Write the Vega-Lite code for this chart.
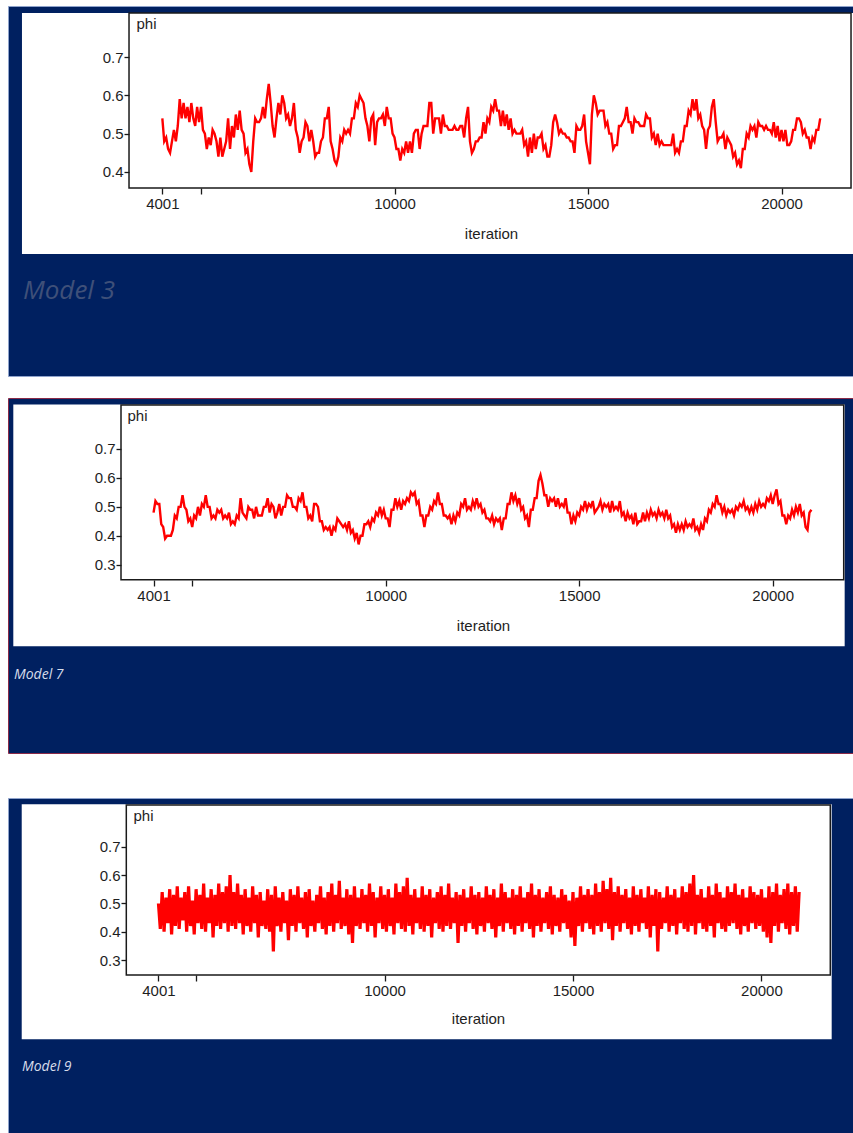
{
"$schema": "https://vega.github.io/schema/vega-lite/v6.json",
"background": "#ffffff",
"padding": {"left": 7, "top": 5, "right": 0, "bottom": 0},
"spacing": 43,
"config": {"view": {"stroke": null}},
"datasets": {
"m3": [
{"i":4001,"v":0.54},{"i":4050,"v":0.48},{"i":4100,"v":0.49},{"i":4150,"v":0.46},{"i":4200,"v":0.45},{"i":4250,"v":0.48},{"i":4300,"v":0.51},{"i":4350,"v":0.48},{"i":4400,"v":0.52},{"i":4450,"v":0.59},
{"i":4500,"v":0.54},{"i":4550,"v":0.58},{"i":4600,"v":0.54},{"i":4650,"v":0.57},{"i":4700,"v":0.53},{"i":4750,"v":0.58},{"i":4800,"v":0.54},{"i":4850,"v":0.52},{"i":4900,"v":0.57},{"i":4950,"v":0.53},
{"i":5000,"v":0.57},{"i":5050,"v":0.51},{"i":5100,"v":0.50},{"i":5150,"v":0.46},{"i":5200,"v":0.49},{"i":5250,"v":0.47},{"i":5300,"v":0.51},{"i":5350,"v":0.50},{"i":5400,"v":0.48},{"i":5450,"v":0.44},
{"i":5500,"v":0.49},{"i":5550,"v":0.44},{"i":5600,"v":0.46},{"i":5650,"v":0.48},{"i":5700,"v":0.54},{"i":5750,"v":0.46},{"i":5800,"v":0.52},{"i":5850,"v":0.49},{"i":5900,"v":0.55},{"i":5950,"v":0.51},
{"i":6000,"v":0.56},{"i":6050,"v":0.51},{"i":6100,"v":0.50},{"i":6150,"v":0.45},{"i":6200,"v":0.46},{"i":6250,"v":0.42},{"i":6300,"v":0.40},{"i":6350,"v":0.48},{"i":6400,"v":0.54},{"i":6450,"v":0.53},
{"i":6500,"v":0.53},{"i":6550,"v":0.54},{"i":6600,"v":0.57},{"i":6650,"v":0.54},{"i":6700,"v":0.59},{"i":6750,"v":0.63},{"i":6800,"v":0.58},{"i":6850,"v":0.52},{"i":6900,"v":0.49},{"i":6950,"v":0.54},
{"i":7000,"v":0.58},{"i":7050,"v":0.55},{"i":7100,"v":0.60},{"i":7150,"v":0.58},{"i":7200,"v":0.54},{"i":7250,"v":0.55},{"i":7300,"v":0.52},{"i":7350,"v":0.54},{"i":7400,"v":0.58},{"i":7450,"v":0.51},
{"i":7500,"v":0.49},{"i":7550,"v":0.45},{"i":7600,"v":0.48},{"i":7650,"v":0.49},{"i":7700,"v":0.53},{"i":7750,"v":0.52},{"i":7800,"v":0.48},{"i":7850,"v":0.51},{"i":7900,"v":0.48},{"i":7950,"v":0.44},
{"i":8000,"v":0.45},{"i":8050,"v":0.45},{"i":8100,"v":0.48},{"i":8150,"v":0.49},{"i":8200,"v":0.54},{"i":8250,"v":0.54},{"i":8300,"v":0.57},{"i":8350,"v":0.48},{"i":8400,"v":0.46},{"i":8450,"v":0.43},
{"i":8500,"v":0.42},{"i":8550,"v":0.44},{"i":8600,"v":0.49},{"i":8650,"v":0.48},{"i":8700,"v":0.51},{"i":8750,"v":0.50},{"i":8800,"v":0.51},{"i":8850,"v":0.50},{"i":8900,"v":0.54},{"i":8950,"v":0.54},
{"i":9000,"v":0.58},{"i":9050,"v":0.57},{"i":9100,"v":0.60},{"i":9150,"v":0.59},{"i":9200,"v":0.58},{"i":9250,"v":0.54},{"i":9300,"v":0.52},{"i":9350,"v":0.48},{"i":9400,"v":0.54},{"i":9450,"v":0.55},
{"i":9500,"v":0.47},{"i":9550,"v":0.53},{"i":9600,"v":0.54},{"i":9650,"v":0.54},{"i":9700,"v":0.55},{"i":9750,"v":0.52},{"i":9800,"v":0.57},{"i":9850,"v":0.54},{"i":9900,"v":0.54},{"i":9950,"v":0.50},
{"i":10000,"v":0.49},{"i":10050,"v":0.46},{"i":10100,"v":0.46},{"i":10150,"v":0.43},{"i":10200,"v":0.46},{"i":10250,"v":0.45},{"i":10300,"v":0.48},{"i":10350,"v":0.45},{"i":10400,"v":0.48},{"i":10450,"v":0.45},
{"i":10500,"v":0.50},{"i":10550,"v":0.51},{"i":10600,"v":0.51},{"i":10650,"v":0.46},{"i":10700,"v":0.50},{"i":10750,"v":0.52},{"i":10800,"v":0.52},{"i":10850,"v":0.52},{"i":10900,"v":0.58},{"i":10950,"v":0.58},
{"i":11000,"v":0.50},{"i":11050,"v":0.54},{"i":11100,"v":0.54},{"i":11150,"v":0.54},{"i":11200,"v":0.50},{"i":11250,"v":0.55},{"i":11300,"v":0.52},{"i":11350,"v":0.52},{"i":11400,"v":0.51},{"i":11450,"v":0.51},
{"i":11500,"v":0.51},{"i":11550,"v":0.52},{"i":11600,"v":0.51},{"i":11650,"v":0.51},{"i":11700,"v":0.52},{"i":11750,"v":0.52},{"i":11800,"v":0.49},{"i":11850,"v":0.54},{"i":11900,"v":0.57},{"i":11950,"v":0.48},
{"i":12000,"v":0.45},{"i":12050,"v":0.46},{"i":12100,"v":0.48},{"i":12150,"v":0.48},{"i":12200,"v":0.49},{"i":12250,"v":0.49},{"i":12300,"v":0.53},{"i":12350,"v":0.50},{"i":12400,"v":0.54},{"i":12450,"v":0.53},
{"i":12500,"v":0.57},{"i":12550,"v":0.56},{"i":12600,"v":0.59},{"i":12650,"v":0.56},{"i":12700,"v":0.56},{"i":12750,"v":0.52},{"i":12800,"v":0.56},{"i":12850,"v":0.52},{"i":12900,"v":0.55},{"i":12950,"v":0.51},
{"i":13000,"v":0.54},{"i":13050,"v":0.50},{"i":13100,"v":0.51},{"i":13150,"v":0.50},{"i":13200,"v":0.50},{"i":13250,"v":0.50},{"i":13300,"v":0.51},{"i":13350,"v":0.47},{"i":13400,"v":0.48},{"i":13450,"v":0.44},
{"i":13500,"v":0.49},{"i":13550,"v":0.45},{"i":13600,"v":0.50},{"i":13650,"v":0.46},{"i":13700,"v":0.49},{"i":13750,"v":0.49},{"i":13800,"v":0.50},{"i":13850,"v":0.46},{"i":13900,"v":0.47},{"i":13950,"v":0.44},
{"i":14000,"v":0.44},{"i":14050,"v":0.47},{"i":14100,"v":0.53},{"i":14150,"v":0.55},{"i":14200,"v":0.53},{"i":14250,"v":0.50},{"i":14300,"v":0.51},{"i":14350,"v":0.50},{"i":14400,"v":0.50},{"i":14450,"v":0.49},
{"i":14500,"v":0.49},{"i":14550,"v":0.48},{"i":14600,"v":0.48},{"i":14650,"v":0.45},{"i":14700,"v":0.52},{"i":14750,"v":0.51},{"i":14800,"v":0.51},{"i":14850,"v":0.52},{"i":14900,"v":0.55},{"i":14950,"v":0.48},
{"i":15000,"v":0.45},{"i":15050,"v":0.42},{"i":15100,"v":0.55},{"i":15150,"v":0.60},{"i":15200,"v":0.58},{"i":15250,"v":0.55},{"i":15300,"v":0.56},{"i":15350,"v":0.56},{"i":15400,"v":0.56},{"i":15450,"v":0.52},
{"i":15500,"v":0.53},{"i":15550,"v":0.50},{"i":15600,"v":0.50},{"i":15650,"v":0.46},{"i":15700,"v":0.47},{"i":15750,"v":0.47},{"i":15800,"v":0.52},{"i":15850,"v":0.52},{"i":15900,"v":0.53},{"i":15950,"v":0.54},
{"i":16000,"v":0.57},{"i":16050,"v":0.53},{"i":16100,"v":0.53},{"i":16150,"v":0.50},{"i":16200,"v":0.54},{"i":16250,"v":0.53},{"i":16300,"v":0.53},{"i":16350,"v":0.52},{"i":16400,"v":0.52},{"i":16450,"v":0.52},
{"i":16500,"v":0.55},{"i":16550,"v":0.54},{"i":16600,"v":0.54},{"i":16650,"v":0.49},{"i":16700,"v":0.50},{"i":16750,"v":0.47},{"i":16800,"v":0.50},{"i":16850,"v":0.47},{"i":16900,"v":0.48},{"i":16950,"v":0.47},
{"i":17000,"v":0.47},{"i":17050,"v":0.47},{"i":17100,"v":0.47},{"i":17150,"v":0.47},{"i":17200,"v":0.50},{"i":17250,"v":0.45},{"i":17300,"v":0.46},{"i":17350,"v":0.45},{"i":17400,"v":0.48},{"i":17450,"v":0.48},
{"i":17500,"v":0.52},{"i":17550,"v":0.52},{"i":17600,"v":0.56},{"i":17650,"v":0.55},{"i":17700,"v":0.59},{"i":17750,"v":0.56},{"i":17800,"v":0.59},{"i":17850,"v":0.54},{"i":17900,"v":0.55},{"i":17950,"v":0.52},
{"i":18000,"v":0.51},{"i":18050,"v":0.46},{"i":18100,"v":0.51},{"i":18150,"v":0.52},{"i":18200,"v":0.57},{"i":18250,"v":0.59},{"i":18300,"v":0.53},{"i":18350,"v":0.48},{"i":18400,"v":0.49},{"i":18450,"v":0.49},
{"i":18500,"v":0.50},{"i":18550,"v":0.46},{"i":18600,"v":0.49},{"i":18650,"v":0.48},{"i":18700,"v":0.47},{"i":18750,"v":0.44},{"i":18800,"v":0.45},{"i":18850,"v":0.42},{"i":18900,"v":0.43},{"i":18950,"v":0.41},
{"i":19000,"v":0.46},{"i":19050,"v":0.46},{"i":19100,"v":0.50},{"i":19150,"v":0.49},{"i":19200,"v":0.52},{"i":19250,"v":0.51},{"i":19300,"v":0.52},{"i":19350,"v":0.49},{"i":19400,"v":0.53},{"i":19450,"v":0.52},
{"i":19500,"v":0.52},{"i":19550,"v":0.51},{"i":19600,"v":0.52},{"i":19650,"v":0.51},{"i":19700,"v":0.51},{"i":19750,"v":0.50},{"i":19800,"v":0.53},{"i":19850,"v":0.49},{"i":19900,"v":0.52},{"i":19950,"v":0.48},
{"i":20000,"v":0.51},{"i":20050,"v":0.48},{"i":20100,"v":0.51},{"i":20150,"v":0.47},{"i":20200,"v":0.47},{"i":20250,"v":0.48},{"i":20300,"v":0.51},{"i":20350,"v":0.51},{"i":20400,"v":0.54},{"i":20450,"v":0.54},
{"i":20500,"v":0.53},{"i":20550,"v":0.50},{"i":20600,"v":0.51},{"i":20650,"v":0.49},{"i":20700,"v":0.49},{"i":20750,"v":0.46},{"i":20800,"v":0.49},{"i":20850,"v":0.48},{"i":20900,"v":0.51},{"i":20950,"v":0.51},
{"i":21000,"v":0.54}
],
"m7": [
{"i":4001,"v":0.48},{"i":4050,"v":0.52},{"i":4100,"v":0.51},{"i":4150,"v":0.51},{"i":4200,"v":0.44},{"i":4250,"v":0.43},{"i":4300,"v":0.39},{"i":4350,"v":0.40},{"i":4400,"v":0.40},{"i":4450,"v":0.40},
{"i":4500,"v":0.42},{"i":4550,"v":0.47},{"i":4600,"v":0.46},{"i":4650,"v":0.50},{"i":4700,"v":0.50},{"i":4750,"v":0.54},{"i":4800,"v":0.50},{"i":4850,"v":0.49},{"i":4900,"v":0.45},{"i":4950,"v":0.46},
{"i":5000,"v":0.43},{"i":5050,"v":0.47},{"i":5100,"v":0.46},{"i":5150,"v":0.50},{"i":5200,"v":0.47},{"i":5250,"v":0.51},{"i":5300,"v":0.50},{"i":5350,"v":0.54},{"i":5400,"v":0.50},{"i":5450,"v":0.50},
{"i":5500,"v":0.46},{"i":5550,"v":0.47},{"i":5600,"v":0.46},{"i":5650,"v":0.49},{"i":5700,"v":0.48},{"i":5750,"v":0.49},{"i":5800,"v":0.46},{"i":5850,"v":0.47},{"i":5900,"v":0.46},{"i":5950,"v":0.48},
{"i":6000,"v":0.44},{"i":6050,"v":0.45},{"i":6100,"v":0.44},{"i":6150,"v":0.47},{"i":6200,"v":0.46},{"i":6250,"v":0.53},{"i":6300,"v":0.48},{"i":6350,"v":0.47},{"i":6400,"v":0.46},{"i":6450,"v":0.50},
{"i":6500,"v":0.49},{"i":6550,"v":0.49},{"i":6600,"v":0.46},{"i":6650,"v":0.50},{"i":6700,"v":0.47},{"i":6750,"v":0.47},{"i":6800,"v":0.47},{"i":6850,"v":0.50},{"i":6900,"v":0.50},{"i":6950,"v":0.53},
{"i":7000,"v":0.48},{"i":7050,"v":0.51},{"i":7100,"v":0.50},{"i":7150,"v":0.46},{"i":7200,"v":0.48},{"i":7250,"v":0.51},{"i":7300,"v":0.47},{"i":7350,"v":0.50},{"i":7400,"v":0.50},{"i":7450,"v":0.54},
{"i":7500,"v":0.53},{"i":7550,"v":0.53},{"i":7600,"v":0.50},{"i":7650,"v":0.50},{"i":7700,"v":0.49},{"i":7750,"v":0.53},{"i":7800,"v":0.52},{"i":7850,"v":0.55},{"i":7900,"v":0.50},{"i":7950,"v":0.50},
{"i":8000,"v":0.46},{"i":8050,"v":0.47},{"i":8100,"v":0.45},{"i":8150,"v":0.51},{"i":8200,"v":0.51},{"i":8250,"v":0.50},{"i":8300,"v":0.45},{"i":8350,"v":0.45},{"i":8400,"v":0.42},{"i":8450,"v":0.43},
{"i":8500,"v":0.42},{"i":8550,"v":0.43},{"i":8600,"v":0.40},{"i":8650,"v":0.43},{"i":8700,"v":0.42},{"i":8750,"v":0.46},{"i":8800,"v":0.45},{"i":8850,"v":0.44},{"i":8900,"v":0.43},{"i":8950,"v":0.44},
{"i":9000,"v":0.42},{"i":9050,"v":0.45},{"i":9100,"v":0.41},{"i":9150,"v":0.42},{"i":9200,"v":0.39},{"i":9250,"v":0.41},{"i":9300,"v":0.37},{"i":9350,"v":0.40},{"i":9400,"v":0.40},{"i":9450,"v":0.44},
{"i":9500,"v":0.44},{"i":9550,"v":0.45},{"i":9600,"v":0.43},{"i":9650,"v":0.46},{"i":9700,"v":0.45},{"i":9750,"v":0.48},{"i":9800,"v":0.47},{"i":9850,"v":0.50},{"i":9900,"v":0.47},{"i":9950,"v":0.49},
{"i":10000,"v":0.46},{"i":10050,"v":0.46},{"i":10100,"v":0.43},{"i":10150,"v":0.49},{"i":10200,"v":0.49},{"i":10250,"v":0.53},{"i":10300,"v":0.50},{"i":10350,"v":0.52},{"i":10400,"v":0.49},{"i":10450,"v":0.52},
{"i":10500,"v":0.51},{"i":10550,"v":0.53},{"i":10600,"v":0.52},{"i":10650,"v":0.55},{"i":10700,"v":0.54},{"i":10750,"v":0.55},{"i":10800,"v":0.51},{"i":10850,"v":0.52},{"i":10900,"v":0.47},{"i":10950,"v":0.47},
{"i":11000,"v":0.43},{"i":11050,"v":0.47},{"i":11100,"v":0.47},{"i":11150,"v":0.50},{"i":11200,"v":0.49},{"i":11250,"v":0.52},{"i":11300,"v":0.51},{"i":11350,"v":0.55},{"i":11400,"v":0.51},{"i":11450,"v":0.51},
{"i":11500,"v":0.47},{"i":11550,"v":0.47},{"i":11600,"v":0.46},{"i":11650,"v":0.47},{"i":11700,"v":0.44},{"i":11750,"v":0.47},{"i":11800,"v":0.45},{"i":11850,"v":0.48},{"i":11900,"v":0.47},{"i":11950,"v":0.51},
{"i":12000,"v":0.50},{"i":12050,"v":0.53},{"i":12100,"v":0.49},{"i":12150,"v":0.50},{"i":12200,"v":0.49},{"i":12250,"v":0.52},{"i":12300,"v":0.50},{"i":12350,"v":0.53},{"i":12400,"v":0.50},{"i":12450,"v":0.51},
{"i":12500,"v":0.48},{"i":12550,"v":0.49},{"i":12600,"v":0.46},{"i":12650,"v":0.46},{"i":12700,"v":0.45},{"i":12750,"v":0.47},{"i":12800,"v":0.44},{"i":12850,"v":0.46},{"i":12900,"v":0.45},{"i":12950,"v":0.46},
{"i":13000,"v":0.42},{"i":13050,"v":0.46},{"i":13100,"v":0.46},{"i":13150,"v":0.51},{"i":13200,"v":0.51},{"i":13250,"v":0.55},{"i":13300,"v":0.52},{"i":13350,"v":0.54},{"i":13400,"v":0.51},{"i":13450,"v":0.53},
{"i":13500,"v":0.49},{"i":13550,"v":0.50},{"i":13600,"v":0.46},{"i":13650,"v":0.47},{"i":13700,"v":0.43},{"i":13750,"v":0.49},{"i":13800,"v":0.49},{"i":13850,"v":0.53},{"i":13900,"v":0.53},{"i":13950,"v":0.59},
{"i":14000,"v":0.61},{"i":14050,"v":0.58},{"i":14100,"v":0.54},{"i":14150,"v":0.54},{"i":14200,"v":0.50},{"i":14250,"v":0.53},{"i":14300,"v":0.52},{"i":14350,"v":0.53},{"i":14400,"v":0.50},{"i":14450,"v":0.53},
{"i":14500,"v":0.50},{"i":14550,"v":0.51},{"i":14600,"v":0.50},{"i":14650,"v":0.53},{"i":14700,"v":0.48},{"i":14750,"v":0.48},{"i":14800,"v":0.44},{"i":14850,"v":0.47},{"i":14900,"v":0.45},{"i":14950,"v":0.48},
{"i":15000,"v":0.47},{"i":15050,"v":0.50},{"i":15100,"v":0.49},{"i":15150,"v":0.52},{"i":15200,"v":0.49},{"i":15250,"v":0.51},{"i":15300,"v":0.50},{"i":15350,"v":0.52},{"i":15400,"v":0.48},{"i":15450,"v":0.49},
{"i":15500,"v":0.50},{"i":15550,"v":0.52},{"i":15600,"v":0.49},{"i":15650,"v":0.51},{"i":15700,"v":0.50},{"i":15750,"v":0.51},{"i":15800,"v":0.48},{"i":15850,"v":0.52},{"i":15900,"v":0.49},{"i":15950,"v":0.50},
{"i":16000,"v":0.49},{"i":16050,"v":0.52},{"i":16100,"v":0.47},{"i":16150,"v":0.48},{"i":16200,"v":0.45},{"i":16250,"v":0.48},{"i":16300,"v":0.46},{"i":16350,"v":0.47},{"i":16400,"v":0.44},{"i":16450,"v":0.48},
{"i":16500,"v":0.44},{"i":16550,"v":0.45},{"i":16600,"v":0.45},{"i":16650,"v":0.48},{"i":16700,"v":0.45},{"i":16750,"v":0.48},{"i":16800,"v":0.46},{"i":16850,"v":0.49},{"i":16900,"v":0.47},{"i":16950,"v":0.48},
{"i":17000,"v":0.46},{"i":17050,"v":0.49},{"i":17100,"v":0.47},{"i":17150,"v":0.48},{"i":17200,"v":0.46},{"i":17250,"v":0.49},{"i":17300,"v":0.46},{"i":17350,"v":0.47},{"i":17400,"v":0.43},{"i":17450,"v":0.44},
{"i":17500,"v":0.41},{"i":17550,"v":0.44},{"i":17600,"v":0.42},{"i":17650,"v":0.44},{"i":17700,"v":0.42},{"i":17750,"v":0.45},{"i":17800,"v":0.43},{"i":17850,"v":0.44},{"i":17900,"v":0.43},{"i":17950,"v":0.46},
{"i":18000,"v":0.42},{"i":18050,"v":0.43},{"i":18100,"v":0.41},{"i":18150,"v":0.44},{"i":18200,"v":0.42},{"i":18250,"v":0.46},{"i":18300,"v":0.45},{"i":18350,"v":0.49},{"i":18400,"v":0.48},{"i":18450,"v":0.51},
{"i":18500,"v":0.50},{"i":18550,"v":0.54},{"i":18600,"v":0.51},{"i":18650,"v":0.51},{"i":18700,"v":0.48},{"i":18750,"v":0.50},{"i":18800,"v":0.47},{"i":18850,"v":0.49},{"i":18900,"v":0.48},{"i":18950,"v":0.49},
{"i":19000,"v":0.47},{"i":19050,"v":0.50},{"i":19100,"v":0.49},{"i":19150,"v":0.51},{"i":19200,"v":0.50},{"i":19250,"v":0.52},{"i":19300,"v":0.49},{"i":19350,"v":0.50},{"i":19400,"v":0.48},{"i":19450,"v":0.50},
{"i":19500,"v":0.48},{"i":19550,"v":0.51},{"i":19600,"v":0.49},{"i":19650,"v":0.52},{"i":19700,"v":0.50},{"i":19750,"v":0.51},{"i":19800,"v":0.50},{"i":19850,"v":0.53},{"i":19900,"v":0.52},{"i":19950,"v":0.54},
{"i":20000,"v":0.51},{"i":20050,"v":0.54},{"i":20100,"v":0.56},{"i":20150,"v":0.51},{"i":20200,"v":0.52},{"i":20250,"v":0.47},{"i":20300,"v":0.47},{"i":20350,"v":0.44},{"i":20400,"v":0.47},{"i":20450,"v":0.46},
{"i":20500,"v":0.49},{"i":20550,"v":0.47},{"i":20600,"v":0.50},{"i":20650,"v":0.48},{"i":20700,"v":0.51},{"i":20750,"v":0.47},{"i":20800,"v":0.48},{"i":20850,"v":0.43},{"i":20900,"v":0.42},{"i":20950,"v":0.48},
{"i":21000,"v":0.49}
],
"m9": [
{"i":4001,"v":0.50},{"i":4050,"v":0.41},{"i":4100,"v":0.54},{"i":4150,"v":0.40},{"i":4200,"v":0.52},{"i":4250,"v":0.43},{"i":4300,"v":0.55},{"i":4350,"v":0.39},{"i":4400,"v":0.53},{"i":4450,"v":0.42},
{"i":4500,"v":0.56},{"i":4550,"v":0.41},{"i":4600,"v":0.52},{"i":4650,"v":0.44},{"i":4700,"v":0.54},{"i":4750,"v":0.40},{"i":4800,"v":0.56},{"i":4850,"v":0.42},{"i":4900,"v":0.51},{"i":4950,"v":0.39},
{"i":5000,"v":0.55},{"i":5050,"v":0.43},{"i":5100,"v":0.53},{"i":5150,"v":0.41},{"i":5200,"v":0.57},{"i":5250,"v":0.40},{"i":5300,"v":0.52},{"i":5350,"v":0.43},{"i":5400,"v":0.55},{"i":5450,"v":0.38},
{"i":5500,"v":0.53},{"i":5550,"v":0.42},{"i":5600,"v":0.57},{"i":5650,"v":0.41},{"i":5700,"v":0.54},{"i":5750,"v":0.43},{"i":5800,"v":0.56},{"i":5850,"v":0.40},{"i":5900,"v":0.60},{"i":5950,"v":0.42},
{"i":6000,"v":0.54},{"i":6050,"v":0.41},{"i":6100,"v":0.57},{"i":6150,"v":0.43},{"i":6200,"v":0.53},{"i":6250,"v":0.39},{"i":6300,"v":0.55},{"i":6350,"v":0.42},{"i":6400,"v":0.52},{"i":6450,"v":0.40},
{"i":6500,"v":0.56},{"i":6550,"v":0.43},{"i":6600,"v":0.53},{"i":6650,"v":0.38},{"i":6700,"v":0.54},{"i":6750,"v":0.42},{"i":6800,"v":0.51},{"i":6850,"v":0.41},{"i":6900,"v":0.55},{"i":6950,"v":0.40},
{"i":7000,"v":0.53},{"i":7050,"v":0.33},{"i":7100,"v":0.56},{"i":7150,"v":0.42},{"i":7200,"v":0.52},{"i":7250,"v":0.40},{"i":7300,"v":0.54},{"i":7350,"v":0.43},{"i":7400,"v":0.51},{"i":7450,"v":0.37},
{"i":7500,"v":0.55},{"i":7550,"v":0.42},{"i":7600,"v":0.53},{"i":7650,"v":0.40},{"i":7700,"v":0.56},{"i":7750,"v":0.43},{"i":7800,"v":0.52},{"i":7850,"v":0.41},{"i":7900,"v":0.54},{"i":7950,"v":0.38},
{"i":8000,"v":0.55},{"i":8050,"v":0.42},{"i":8100,"v":0.51},{"i":8150,"v":0.40},{"i":8200,"v":0.53},{"i":8250,"v":0.43},{"i":8300,"v":0.56},{"i":8350,"v":0.41},{"i":8400,"v":0.52},{"i":8450,"v":0.39},
{"i":8500,"v":0.54},{"i":8550,"v":0.42},{"i":8600,"v":0.57},{"i":8650,"v":0.40},{"i":8700,"v":0.53},{"i":8750,"v":0.43},{"i":8800,"v":0.58},{"i":8850,"v":0.41},{"i":8900,"v":0.52},{"i":8950,"v":0.42},
{"i":9000,"v":0.55},{"i":9050,"v":0.39},{"i":9100,"v":0.53},{"i":9150,"v":0.36},{"i":9200,"v":0.56},{"i":9250,"v":0.42},{"i":9300,"v":0.52},{"i":9350,"v":0.41},{"i":9400,"v":0.55},{"i":9450,"v":0.43},
{"i":9500,"v":0.53},{"i":9550,"v":0.40},{"i":9600,"v":0.57},{"i":9650,"v":0.42},{"i":9700,"v":0.54},{"i":9750,"v":0.38},{"i":9800,"v":0.52},{"i":9850,"v":0.43},{"i":9900,"v":0.56},{"i":9950,"v":0.41},
{"i":10000,"v":0.53},{"i":10050,"v":0.40},{"i":10100,"v":0.55},{"i":10150,"v":0.42},{"i":10200,"v":0.52},{"i":10250,"v":0.39},{"i":10300,"v":0.57},{"i":10350,"v":0.43},{"i":10400,"v":0.54},{"i":10450,"v":0.41},
{"i":10500,"v":0.56},{"i":10550,"v":0.40},{"i":10600,"v":0.59},{"i":10650,"v":0.42},{"i":10700,"v":0.53},{"i":10750,"v":0.39},{"i":10800,"v":0.55},{"i":10850,"v":0.43},{"i":10900,"v":0.52},{"i":10950,"v":0.41},
{"i":11000,"v":0.56},{"i":11050,"v":0.40},{"i":11100,"v":0.53},{"i":11150,"v":0.42},{"i":11200,"v":0.55},{"i":11250,"v":0.38},{"i":11300,"v":0.52},{"i":11350,"v":0.43},{"i":11400,"v":0.54},{"i":11450,"v":0.41},
{"i":11500,"v":0.56},{"i":11550,"v":0.40},{"i":11600,"v":0.53},{"i":11650,"v":0.42},{"i":11700,"v":0.57},{"i":11750,"v":0.41},{"i":11800,"v":0.52},{"i":11850,"v":0.43},{"i":11900,"v":0.54},{"i":11950,"v":0.36},
{"i":12000,"v":0.53},{"i":12050,"v":0.42},{"i":12100,"v":0.55},{"i":12150,"v":0.40},{"i":12200,"v":0.52},{"i":12250,"v":0.43},{"i":12300,"v":0.56},{"i":12350,"v":0.41},{"i":12400,"v":0.53},{"i":12450,"v":0.39},
{"i":12500,"v":0.54},{"i":12550,"v":0.42},{"i":12600,"v":0.52},{"i":12650,"v":0.40},{"i":12700,"v":0.56},{"i":12750,"v":0.43},{"i":12800,"v":0.53},{"i":12850,"v":0.41},{"i":12900,"v":0.55},{"i":12950,"v":0.38},
{"i":13000,"v":0.52},{"i":13050,"v":0.42},{"i":13100,"v":0.57},{"i":13150,"v":0.40},{"i":13200,"v":0.54},{"i":13250,"v":0.43},{"i":13300,"v":0.52},{"i":13350,"v":0.41},{"i":13400,"v":0.55},{"i":13450,"v":0.39},
{"i":13500,"v":0.53},{"i":13550,"v":0.42},{"i":13600,"v":0.56},{"i":13650,"v":0.40},{"i":13700,"v":0.52},{"i":13750,"v":0.43},{"i":13800,"v":0.54},{"i":13850,"v":0.41},{"i":13900,"v":0.57},{"i":13950,"v":0.38},
{"i":14000,"v":0.53},{"i":14050,"v":0.42},{"i":14100,"v":0.55},{"i":14150,"v":0.40},{"i":14200,"v":0.52},{"i":14250,"v":0.43},{"i":14300,"v":0.54},{"i":14350,"v":0.41},{"i":14400,"v":0.56},{"i":14450,"v":0.39},
{"i":14500,"v":0.53},{"i":14550,"v":0.42},{"i":14600,"v":0.52},{"i":14650,"v":0.40},{"i":14700,"v":0.55},{"i":14750,"v":0.43},{"i":14800,"v":0.53},{"i":14850,"v":0.41},{"i":14900,"v":0.51},{"i":14950,"v":0.38},
{"i":15000,"v":0.54},{"i":15050,"v":0.35},{"i":15100,"v":0.52},{"i":15150,"v":0.42},{"i":15200,"v":0.56},{"i":15250,"v":0.40},{"i":15300,"v":0.53},{"i":15350,"v":0.43},{"i":15400,"v":0.55},{"i":15450,"v":0.41},
{"i":15500,"v":0.53},{"i":15550,"v":0.39},{"i":15600,"v":0.57},{"i":15650,"v":0.42},{"i":15700,"v":0.54},{"i":15750,"v":0.40},{"i":15800,"v":0.58},{"i":15850,"v":0.43},{"i":15900,"v":0.55},{"i":15950,"v":0.41},
{"i":16000,"v":0.59},{"i":16050,"v":0.37},{"i":16100,"v":0.54},{"i":16150,"v":0.42},{"i":16200,"v":0.56},{"i":16250,"v":0.40},{"i":16300,"v":0.53},{"i":16350,"v":0.43},{"i":16400,"v":0.55},{"i":16450,"v":0.41},
{"i":16500,"v":0.52},{"i":16550,"v":0.39},{"i":16600,"v":0.56},{"i":16650,"v":0.42},{"i":16700,"v":0.53},{"i":16750,"v":0.40},{"i":16800,"v":0.55},{"i":16850,"v":0.43},{"i":16900,"v":0.52},{"i":16950,"v":0.41},
{"i":17000,"v":0.56},{"i":17050,"v":0.38},{"i":17100,"v":0.53},{"i":17150,"v":0.42},{"i":17200,"v":0.55},{"i":17250,"v":0.33},{"i":17300,"v":0.54},{"i":17350,"v":0.41},{"i":17400,"v":0.52},{"i":17450,"v":0.43},
{"i":17500,"v":0.56},{"i":17550,"v":0.40},{"i":17600,"v":0.53},{"i":17650,"v":0.42},{"i":17700,"v":0.55},{"i":17750,"v":0.39},{"i":17800,"v":0.52},{"i":17850,"v":0.43},{"i":17900,"v":0.56},{"i":17950,"v":0.41},
{"i":18000,"v":0.54},{"i":18050,"v":0.40},{"i":18100,"v":0.57},{"i":18150,"v":0.42},{"i":18200,"v":0.60},{"i":18250,"v":0.39},{"i":18300,"v":0.53},{"i":18350,"v":0.43},{"i":18400,"v":0.55},{"i":18450,"v":0.41},
{"i":18500,"v":0.52},{"i":18550,"v":0.40},{"i":18600,"v":0.56},{"i":18650,"v":0.42},{"i":18700,"v":0.53},{"i":18750,"v":0.38},{"i":18800,"v":0.57},{"i":18850,"v":0.43},{"i":18900,"v":0.54},{"i":18950,"v":0.41},
{"i":19000,"v":0.52},{"i":19050,"v":0.40},{"i":19100,"v":0.56},{"i":19150,"v":0.42},{"i":19200,"v":0.54},{"i":19250,"v":0.43},{"i":19300,"v":0.57},{"i":19350,"v":0.41},{"i":19400,"v":0.53},{"i":19450,"v":0.39},
{"i":19500,"v":0.55},{"i":19550,"v":0.42},{"i":19600,"v":0.52},{"i":19650,"v":0.40},{"i":19700,"v":0.56},{"i":19750,"v":0.43},{"i":19800,"v":0.54},{"i":19850,"v":0.41},{"i":19900,"v":0.53},{"i":19950,"v":0.42},
{"i":20000,"v":0.55},{"i":20050,"v":0.40},{"i":20100,"v":0.52},{"i":20150,"v":0.38},{"i":20200,"v":0.56},{"i":20250,"v":0.36},{"i":20300,"v":0.54},{"i":20350,"v":0.42},{"i":20400,"v":0.57},{"i":20450,"v":0.40},
{"i":20500,"v":0.53},{"i":20550,"v":0.43},{"i":20600,"v":0.55},{"i":20650,"v":0.41},{"i":20700,"v":0.57},{"i":20750,"v":0.39},{"i":20800,"v":0.54},{"i":20850,"v":0.42},{"i":20900,"v":0.56},{"i":20950,"v":0.40},
{"i":21000,"v":0.54}
]
},
"vconcat": [
{
"spacing": 20,
"vconcat": [
{
"width": 846, "height": 370,
"view": {"fill": "#002060", "stroke": "#8fa3cc", "strokeWidth": 1},
"layer": [
{"data": {"values": [{}]}, "mark": {"type": "rect", "fill": "#ffffff"},
 "encoding": {
  "x": {"datum": 374, "type": "quantitative", "scale": {"domain": [13, 21873], "nice": false, "zero": false}},
  "x2": {"datum": 21850},
  "y": {"datum": 0.8148, "type": "quantitative", "scale": {"domain": [-0.1323, 0.8331], "nice": false, "zero": false}},
  "y2": {"datum": 0.186}}},
{"data": {"values": [{}]}, "mark": {"type": "rect", "filled": false, "color": "#1a1a1a", "strokeWidth": 1.5},
 "encoding": {
  "x": {"datum": 3140, "type": "quantitative", "scale": {"domain": [13, 21873], "nice": false, "zero": false}},
  "x2": {"datum": 21796},
  "y": {"datum": 0.8148, "type": "quantitative", "scale": {"domain": [-0.1323, 0.8331], "nice": false, "zero": false}},
  "y2": {"datum": 0.3582}}},
{"data": {"name": "m3"}, "mark": {"type": "line", "color": "#ff0000", "strokeWidth": 2.4},
 "encoding": {
  "x": {"field": "i", "type": "quantitative", "scale": {"domain": [13, 21873], "nice": false, "zero": false},
   "axis": {"values": [4001, 5000, 10000, 15000, 20000], "format": "d", "labelExpr": "datum.value == 5000 ? '' : datum.label", "offset": -188, "domain": false, "grid": false, "tickSize": 6, "tickWidth": 1.3, "tickColor": "#1a1a1a", "labelFont": "Liberation Sans", "labelFontSize": 15, "labelColor": "#1e1e1e", "labelPadding": 2, "labelFlush": false, "labelOverlap": false, "title": "iteration", "titleFont": "Liberation Sans", "titleFontSize": 15, "titleFontWeight": "normal", "titleColor": "#1e1e1e", "titleX": 483, "titleY": 50, "titleAlign": "center", "titleBaseline": "alphabetic", "zindex": 1}},
  "y": {"field": "v", "type": "quantitative", "scale": {"domain": [-0.1323, 0.8331], "nice": false, "zero": false},
   "axis": {"values": [0.4, 0.5, 0.6, 0.7], "format": ".1f", "offset": -121, "domain": false, "grid": false, "tickSize": 5, "tickWidth": 1.3, "tickColor": "#1a1a1a", "labelFont": "Liberation Sans", "labelFontSize": 15, "labelColor": "#1e1e1e", "labelPadding": 1, "labelOverlap": false, "title": "phi", "titleAngle": 0, "titleFont": "Liberation Sans", "titleFontSize": 15, "titleFontWeight": "normal", "titleColor": "#1e1e1e", "titleX": 7, "titleY": 22, "titleAlign": "left", "titleBaseline": "alphabetic", "zindex": 1}}}},
{"data": {"values": [{}]}, "mark": {"type": "text", "align": "left", "baseline": "alphabetic", "font": "Open Sans", "fontStyle": "italic", "fontSize": 26, "color": "#3f5079"},
 "encoding": {
  "x": {"datum": 400, "type": "quantitative", "scale": {"domain": [13, 21873], "nice": false, "zero": false}},
  "y": {"datum": 0.0686, "type": "quantitative", "scale": {"domain": [-0.1323, 0.8331], "nice": false, "zero": false}},
  "text": {"value": "Model 3"}}}
]
},
{
"width": 846, "height": 355,
"view": {"fill": "#002060", "stroke": "#8a2a48", "strokeWidth": 1},
"layer": [
{"data": {"values": [{}]}, "mark": {"type": "rect", "fill": "#ffffff"},
 "encoding": {
  "x": {"datum": 377, "type": "quantitative", "scale": {"domain": [240, 22101], "nice": false, "zero": false}},
  "x2": {"datum": 21860},
  "y": {"datum": 0.8538, "type": "quantitative", "scale": {"domain": [-0.3512, 0.8763], "nice": false, "zero": false}},
  "y2": {"datum": 0.0178}}},
{"data": {"values": [{}]}, "mark": {"type": "rect", "filled": false, "color": "#1a1a1a", "strokeWidth": 1.5},
 "encoding": {
  "x": {"datum": 3160, "type": "quantitative", "scale": {"domain": [240, 22101], "nice": false, "zero": false}},
  "x2": {"datum": 21835},
  "y": {"datum": 0.8521, "type": "quantitative", "scale": {"domain": [-0.3512, 0.8763], "nice": false, "zero": false}},
  "y2": {"datum": 0.2481}}},
{"data": {"name": "m7"}, "mark": {"type": "line", "color": "#ff0000", "strokeWidth": 2.4},
 "encoding": {
  "x": {"field": "i", "type": "quantitative", "scale": {"domain": [240, 22101], "nice": false, "zero": false},
   "axis": {"values": [4001, 5000, 10000, 15000, 20000], "format": "d", "labelExpr": "datum.value == 5000 ? '' : datum.label", "offset": -173, "domain": false, "grid": false, "tickSize": 6, "tickWidth": 1.3, "tickColor": "#1a1a1a", "labelFont": "Liberation Sans", "labelFontSize": 15, "labelColor": "#1e1e1e", "labelPadding": 2, "labelFlush": false, "labelOverlap": false, "title": "iteration", "titleFont": "Liberation Sans", "titleFontSize": 15, "titleFontWeight": "normal", "titleColor": "#1e1e1e", "titleX": 475, "titleY": 50, "titleAlign": "center", "titleBaseline": "alphabetic", "zindex": 1}},
  "y": {"field": "v", "type": "quantitative", "scale": {"domain": [-0.3512, 0.8763], "nice": false, "zero": false},
   "axis": {"values": [0.3, 0.4, 0.5, 0.6, 0.7], "format": ".1f", "offset": -113, "domain": false, "grid": false, "tickSize": 5, "tickWidth": 1.3, "tickColor": "#1a1a1a", "labelFont": "Liberation Sans", "labelFontSize": 15, "labelColor": "#1e1e1e", "labelPadding": 1, "labelOverlap": false, "title": "phi", "titleAngle": 0, "titleFont": "Liberation Sans", "titleFontSize": 15, "titleFontWeight": "normal", "titleColor": "#1e1e1e", "titleX": 6, "titleY": 22, "titleAlign": "left", "titleBaseline": "alphabetic", "zindex": 1}}}},
{"data": {"values": [{}]}, "mark": {"type": "text", "align": "left", "baseline": "alphabetic", "font": "Open Sans", "fontStyle": "italic", "fontSize": 14, "color": "#d6dcea"},
 "encoding": {
  "x": {"datum": 395, "type": "quantitative", "scale": {"domain": [240, 22101], "nice": false, "zero": false}},
  "y": {"datum": -0.0953, "type": "quantitative", "scale": {"domain": [-0.3512, 0.8763], "nice": false, "zero": false}},
  "text": {"value": "Model 7"}}}
]
}
]
},
{
"width": 846, "height": 340,
"view": {"fill": "#002060", "stroke": "#8fa3cc", "strokeWidth": 1},
"layer": [
{"data": {"values": [{}]}, "mark": {"type": "rect", "fill": "#ffffff"},
 "encoding": {
  "x": {"datum": 373, "type": "quantitative", "scale": {"domain": [9, 22456], "nice": false, "zero": false}},
  "x2": {"datum": 21864},
  "y": {"datum": 0.8496, "type": "quantitative", "scale": {"domain": [-0.3282, 0.8719], "nice": false, "zero": false}},
  "y2": {"datum": 0.0201}}},
{"data": {"values": [{}]}, "mark": {"type": "rect", "filled": false, "color": "#1a1a1a", "strokeWidth": 1.5},
 "encoding": {
  "x": {"datum": 3148, "type": "quantitative", "scale": {"domain": [9, 22456], "nice": false, "zero": false}},
  "x2": {"datum": 21827},
  "y": {"datum": 0.8472, "type": "quantitative", "scale": {"domain": [-0.3282, 0.8719], "nice": false, "zero": false}},
  "y2": {"datum": 0.2471}}},
{"data": {"name": "m9"}, "mark": {"type": "line", "color": "#ff0000", "strokeWidth": 3.2},
 "encoding": {
  "x": {"field": "i", "type": "quantitative", "scale": {"domain": [9, 22456], "nice": false, "zero": false},
   "axis": {"values": [4001, 5000, 10000, 15000, 20000], "format": "d", "labelExpr": "datum.value == 5000 ? '' : datum.label", "offset": -163, "domain": false, "grid": false, "tickSize": 6, "tickWidth": 1.3, "tickColor": "#1a1a1a", "labelFont": "Liberation Sans", "labelFontSize": 15, "labelColor": "#1e1e1e", "labelPadding": 2, "labelFlush": false, "labelOverlap": false, "title": "iteration", "titleFont": "Liberation Sans", "titleFontSize": 15, "titleFontWeight": "normal", "titleColor": "#1e1e1e", "titleX": 470, "titleY": 48, "titleAlign": "center", "titleBaseline": "alphabetic", "zindex": 1}},
  "y": {"field": "v", "type": "quantitative", "scale": {"domain": [-0.3282, 0.8719], "nice": false, "zero": false},
   "axis": {"values": [0.3, 0.4, 0.5, 0.6, 0.7], "format": ".1f", "offset": -118, "domain": false, "grid": false, "tickSize": 5, "tickWidth": 1.3, "tickColor": "#1a1a1a", "labelFont": "Liberation Sans", "labelFontSize": 15, "labelColor": "#1e1e1e", "labelPadding": 1, "labelOverlap": false, "title": "phi", "titleAngle": 0, "titleFont": "Liberation Sans", "titleFontSize": 15, "titleFontWeight": "normal", "titleColor": "#1e1e1e", "titleX": 7, "titleY": 22, "titleAlign": "left", "titleBaseline": "alphabetic", "zindex": 1}}}},
{"data": {"values": [{}]}, "mark": {"type": "text", "align": "left", "baseline": "alphabetic", "font": "Open Sans", "fontStyle": "italic", "fontSize": 14, "color": "#d6dcea"},
 "encoding": {
  "x": {"datum": 381, "type": "quantitative", "scale": {"domain": [9, 22456], "nice": false, "zero": false}},
  "y": {"datum": -0.0917, "type": "quantitative", "scale": {"domain": [-0.3282, 0.8719], "nice": false, "zero": false}},
  "text": {"value": "Model 9"}}}
]
}
]
}
